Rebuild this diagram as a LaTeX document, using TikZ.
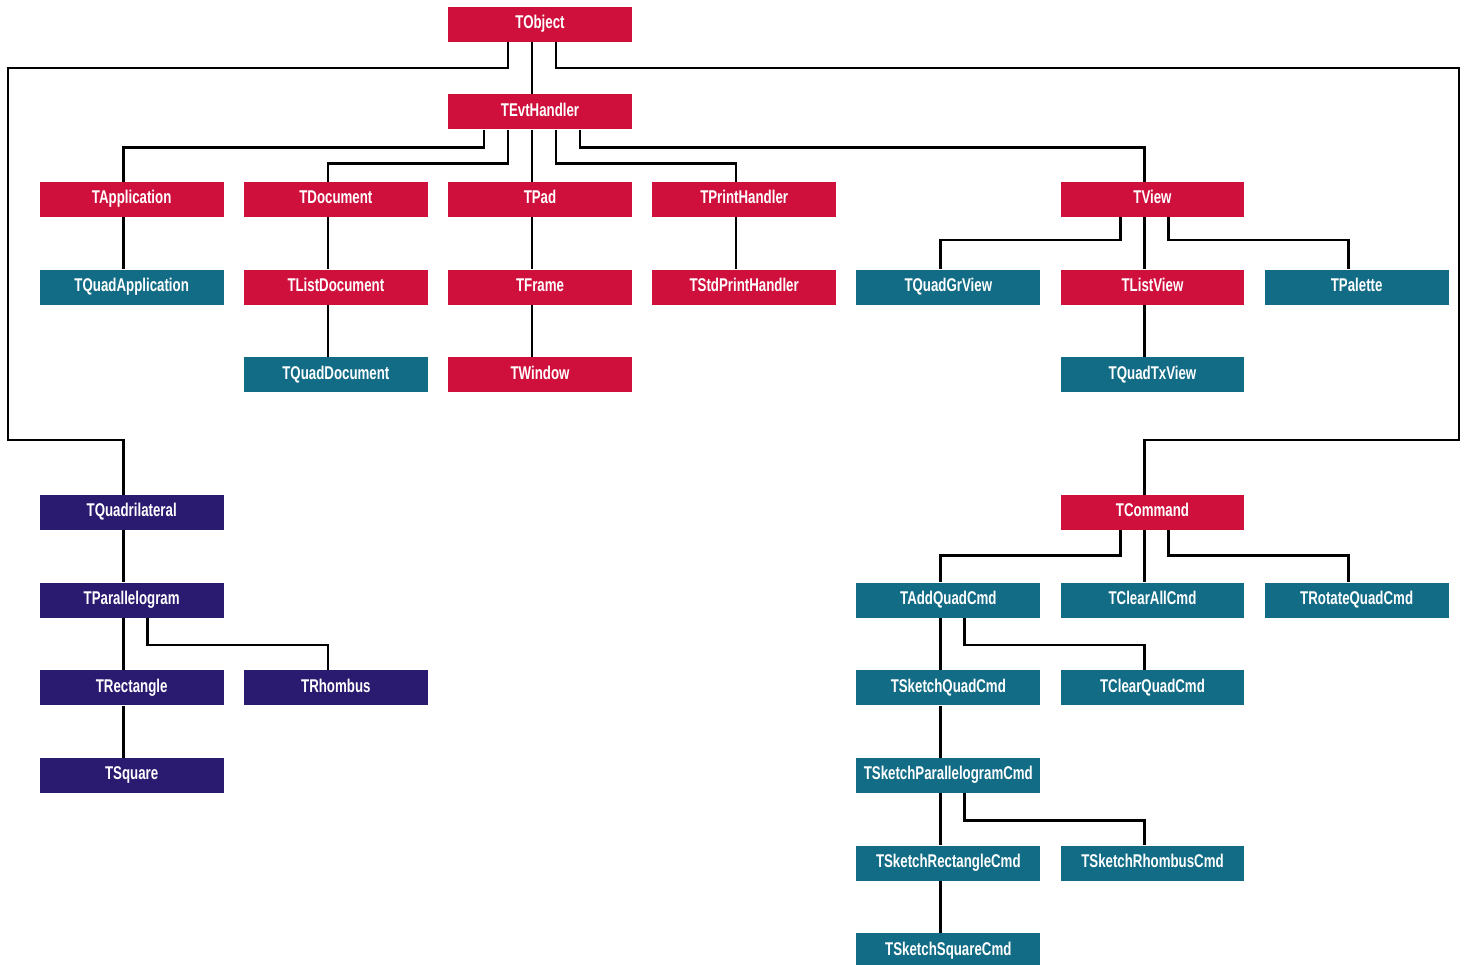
\documentclass[tikz,border=0pt]{standalone}
\usepackage{fontspec}
\newfontfamily\boxfont{Liberation Sans}[FakeStretch=0.72]
\usetikzlibrary{positioning}
\definecolor{clsred}{RGB}{208,16,60}
\definecolor{clsteal}{RGB}{18,108,134}
\definecolor{clsnavy}{RGB}{42,26,112}
\tikzset{
  cls/.style={draw=none, text=white, minimum width=3.68cm, minimum height=0.7cm,
    inner sep=0pt, text height=1.55ex, text depth=0.4ex,
    font=\boxfont\bfseries\fontsize{10.5}{12}\selectfont},
  redcls/.style={cls, fill=clsred},
  tealcls/.style={cls, fill=clsteal},
  navycls/.style={cls, fill=clsnavy},
  link/.style={draw=black, line width=1.45pt}
}

\begin{document}
\begin{tikzpicture}[x=0.02cm, y=-0.02cm, node distance=1.04cm and 0.39cm]
  \useasboundingbox (0,0) rectangle (1469,964);

  \node[redcls] (obj) at (540,24) {TObject};
  \node[redcls, below=of obj] (evt) {TEvtHandler};
  \node[redcls, below=of evt] (pad) {TPad};
  \node[redcls, left=of pad] (doc) {TDocument};
  \node[redcls, left=of doc] (app) {TApplication};
  \node[redcls, right=of pad] (prn) {TPrintHandler};

  \node[tealcls, below=of app] (qapp) {TQuadApplication};
  \node[redcls, below=of doc] (ldoc) {TListDocument};
  \node[redcls, below=of pad] (frame) {TFrame};
  \node[redcls, below=of prn] (stdprn) {TStdPrintHandler};
  \node[tealcls, right=of stdprn] (qgr) {TQuadGrView};
  \node[redcls, right=of qgr] (lview) {TListView};
  \node[tealcls, right=of lview] (pal) {TPalette};
  \node[redcls, above=of lview] (view) {TView};

  \node[tealcls, below=of ldoc] (qdoc) {TQuadDocument};
  \node[redcls, below=of frame] (win) {TWindow};
  \node[tealcls, below=of lview] (qtx) {TQuadTxView};

  \node[redcls, below=2.04cm of qtx] (cmd) {TCommand};
  \node[navycls] (quadrl) at (qapp |- cmd) {TQuadrilateral};
  \node[navycls, below=of quadrl] (para) {TParallelogram};
  \node[navycls, below=of para] (rect) {TRectangle};
  \node[navycls, right=of rect] (rhomb) {TRhombus};
  \node[navycls, below=of rect] (square) {TSquare};

  \node[tealcls, below=of cmd] (clrall) {TClearAllCmd};
  \node[tealcls, left=of clrall] (addq) {TAddQuadCmd};
  \node[tealcls, right=of clrall] (rotq) {TRotateQuadCmd};
  \node[tealcls, below=of addq] (skq) {TSketchQuadCmd};
  \node[tealcls, right=of skq] (clrq) {TClearQuadCmd};
  \node[tealcls, below=of skq] (skpara) {TSketchParallelogramCmd};
  \node[tealcls, below=of skpara] (skrect) {TSketchRectangleCmd};
  \node[tealcls, right=of skrect] (skrhomb) {TSketchRhombusCmd};
  \node[tealcls, below=of skrect] (sksq) {TSketchSquareCmd};

  \coordinate (lbend) at (8,440);
  \coordinate (rbend) at (1459,440);

  \draw[link] ([xshift=-0.16cm]obj.south) -- ([xshift=-0.16cm]evt.north);
  \draw[link] ([xshift=-0.64cm]obj.south) -- ++(0,-0.52cm) -| (lbend) -| ([xshift=-0.16cm]quadrl.north);
  \draw[link] ([xshift=0.32cm]obj.south) -- ++(0,-0.52cm) -| (rbend) -| ([xshift=-0.16cm]cmd.north);

  \draw[link] ([xshift=-1.12cm]evt.south) -- ++(0,-0.36cm) -| ([xshift=-0.16cm]app.north);
  \draw[link] ([xshift=-0.64cm]evt.south) -- ++(0,-0.68cm) -| ([xshift=-0.16cm]doc.north);
  \draw[link] ([xshift=-0.16cm]evt.south) -- ([xshift=-0.16cm]pad.north);
  \draw[link] ([xshift=0.32cm]evt.south) -- ++(0,-0.68cm) -| ([xshift=-0.16cm]prn.north);
  \draw[link] ([xshift=0.8cm]evt.south) -- ++(0,-0.36cm) -| ([xshift=-0.16cm]view.north);

  \draw[link] ([xshift=-0.16cm]app.south) -- ([xshift=-0.16cm]qapp.north);
  \draw[link] ([xshift=-0.16cm]doc.south) -- ([xshift=-0.16cm]ldoc.north);
  \draw[link] ([xshift=-0.16cm]ldoc.south) -- ([xshift=-0.16cm]qdoc.north);
  \draw[link] ([xshift=-0.16cm]pad.south) -- ([xshift=-0.16cm]frame.north);
  \draw[link] ([xshift=-0.16cm]frame.south) -- ([xshift=-0.16cm]win.north);
  \draw[link] ([xshift=-0.16cm]prn.south) -- ([xshift=-0.16cm]stdprn.north);

  \draw[link] ([xshift=-0.64cm]view.south) -- ++(0,-0.46cm) -| ([xshift=-0.16cm]qgr.north);
  \draw[link] ([xshift=-0.16cm]view.south) -- ([xshift=-0.16cm]lview.north);
  \draw[link] ([xshift=0.32cm]view.south) -- ++(0,-0.46cm) -| ([xshift=-0.16cm]pal.north);
  \draw[link] ([xshift=-0.16cm]lview.south) -- ([xshift=-0.16cm]qtx.north);

  \draw[link] ([xshift=-0.16cm]quadrl.south) -- ([xshift=-0.16cm]para.north);
  \draw[link] ([xshift=-0.16cm]para.south) -- ([xshift=-0.16cm]rect.north);
  \draw[link] ([xshift=0.32cm]para.south) -- ++(0,-0.54cm) -| ([xshift=-0.16cm]rhomb.north);
  \draw[link] ([xshift=-0.16cm]rect.south) -- ([xshift=-0.16cm]square.north);

  \draw[link] ([xshift=-0.64cm]cmd.south) -- ++(0,-0.5cm) -| ([xshift=-0.16cm]addq.north);
  \draw[link] ([xshift=-0.16cm]cmd.south) -- ([xshift=-0.16cm]clrall.north);
  \draw[link] ([xshift=0.32cm]cmd.south) -- ++(0,-0.5cm) -| ([xshift=-0.16cm]rotq.north);
  \draw[link] ([xshift=-0.16cm]addq.south) -- ([xshift=-0.16cm]skq.north);
  \draw[link] ([xshift=0.32cm]addq.south) -- ++(0,-0.54cm) -| ([xshift=-0.16cm]clrq.north);
  \draw[link] ([xshift=-0.16cm]skq.south) -- ([xshift=-0.16cm]skpara.north);
  \draw[link] ([xshift=-0.16cm]skpara.south) -- ([xshift=-0.16cm]skrect.north);
  \draw[link] ([xshift=0.32cm]skpara.south) -- ++(0,-0.54cm) -| ([xshift=-0.16cm]skrhomb.north);
  \draw[link] ([xshift=-0.16cm]skrect.south) -- ([xshift=-0.16cm]sksq.north);
\end{tikzpicture}
\end{document}
